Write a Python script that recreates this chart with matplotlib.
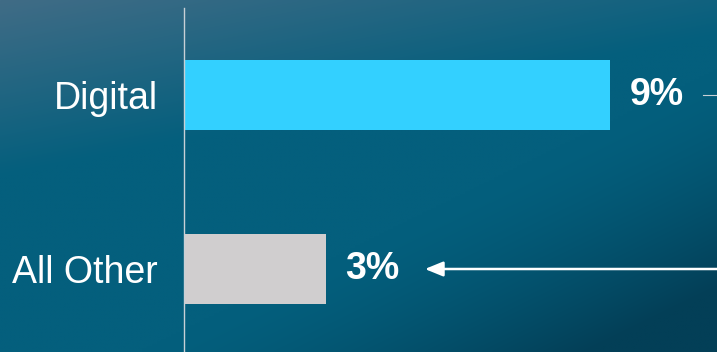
import numpy as np
import matplotlib.pyplot as plt
from matplotlib.colors import to_rgb

categories = ["All Other", "Digital"]
values = [3, 9]
labels = ["3%", "9%"]
bar_colors = ["#D0CECF", "#33D0FF"]

plt.rcParams['font.family'] = ['Liberation Sans', 'DejaVu Sans']

fig = plt.figure(figsize=(7.17, 3.52), dpi=100)

# background: teal base, greyish haze top-left, darker corner bottom-right
bg = fig.add_axes([0, 0, 1, 1], zorder=0)
base = np.array(to_rgb("#045F7D"))
haze = np.array(to_rgb("#406C86"))
dark = np.array(to_rgb("#033F57"))
xx, yy = np.meshgrid(np.linspace(0, 1, 300), np.linspace(0, 1, 150))
w_haze = np.clip(1 - (yy * 2.0 + xx * 0.8), 0, 1)[..., None]
w_dark = np.clip((xx - 0.6) * 1.6 + (yy - 0.6) * 1.6, 0, 1)[..., None] ** 1.5
img = base * (1 - w_haze) + haze * w_haze
img = img * (1 - w_dark) + dark * w_dark
bg.imshow(np.clip(img, 0, 1), aspect='auto', extent=[0, 1, 0, 1], interpolation='bilinear')
bg.set_axis_off()

W, H = 717, 352
ax = fig.add_axes([184 / W, 0, (W - 184) / W, (H - 8) / H], zorder=1)
ax.patch.set_alpha(0)
y = np.arange(len(categories))
ax.barh(y, values, height=0.40, color=bar_colors)
ax.set_xlim(0, (W - 184) / 47.33)
ax.set_ylim(-0.477, 1.5)
ax.set_yticks(y)
ax.set_yticklabels(categories, fontsize=27, color="white")
ax.tick_params(axis='y', length=0, pad=19)
ax.set_xticks([])
for s in ["top", "right", "bottom"]:
    ax.spines[s].set_visible(False)
ax.spines["left"].set_color("#C8D0D6")
ax.spines["left"].set_linewidth(1.0)

for yi, val, lab in zip(y, values, labels):
    ax.text(val + 0.41, yi, lab, ha='left', va='center', fontsize=27,
            fontweight='bold', color="white")

# arrow pointing at the 3% label
ax.annotate("", xy=(5.09, 0.0), xytext=(11.4, 0.0),
            arrowprops=dict(arrowstyle="-|>,head_length=1.1,head_width=0.45",
                            color="white", lw=1.8, shrinkA=0, shrinkB=0),
            annotation_clip=False)
# short connector line near 9%
ax.plot([10.97, 11.3], [1.0, 1.0], color="#C8D0D6", lw=0.8, clip_on=False)

fig.savefig("out.png", dpi=100)
